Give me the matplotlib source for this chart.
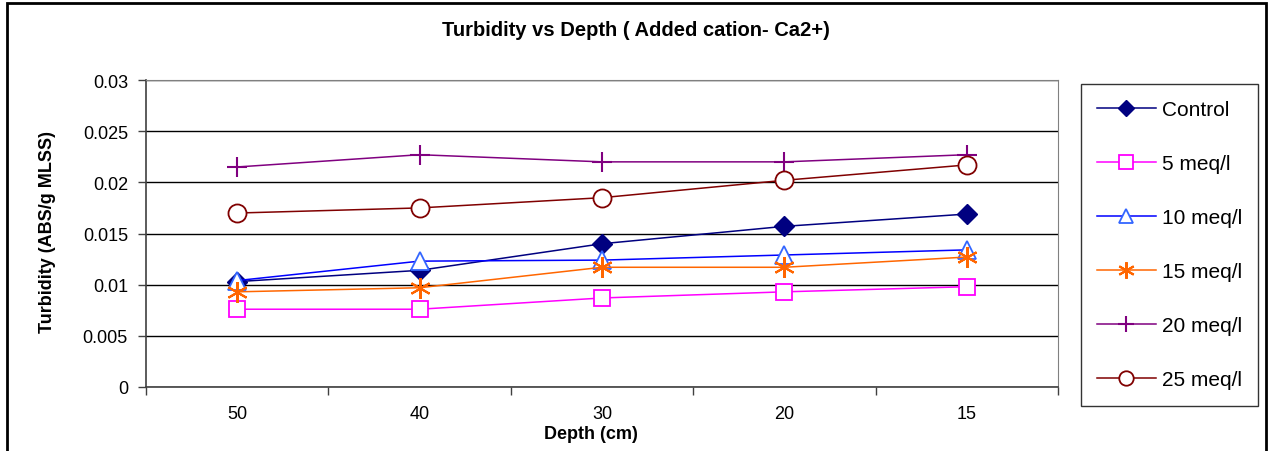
import matplotlib.pyplot as plt
from matplotlib.patches import Rectangle

plt.rcParams['font.family'] = ['Liberation Sans', 'DejaVu Sans']

# depth categories (cm), plotted in this order left to right
depth = ['50', '40', '30', '20', '15']

control = [0.0103, 0.0114, 0.0140, 0.0157, 0.0169]
meq5 = [0.0076, 0.0076, 0.0087, 0.0093, 0.0098]
meq10 = [0.0104, 0.0123, 0.0124, 0.0129, 0.0134]
meq15 = [0.0093, 0.0097, 0.0117, 0.0117, 0.0127]
meq20 = [0.0215, 0.0227, 0.0220, 0.0220, 0.0227]
meq25 = [0.0170, 0.0175, 0.0185, 0.0202, 0.0217]

labels = ['Control', '5 meq/l', '10 meq/l', '15 meq/l', '20 meq/l', '25 meq/l']

W, H = 1271, 452
fig = plt.figure(figsize=(W / 100, H / 100), dpi=100)
ax = fig.add_axes([146 / W, 64 / H, 912 / W, 307 / H])

x = range(len(depth))
lw = 1.1
ax.plot(x, control, color='#000080', lw=lw, marker='D', ms=10,
        mfc='#000080', mec='#000080', label=labels[0], zorder=3)
ax.plot(x, meq5, color='#FF00FF', lw=lw, marker='s', ms=12,
        mfc='white', mec='#FF00FF', mew=1.3, label=labels[1], zorder=3)
ax.plot(x, meq10, color='#0000FF', lw=lw, marker='^', ms=13,
        mfc='white', mec='#3366FF', mew=1.3, label=labels[2], zorder=3)
ax.plot(x, meq15, color='#FF6600', lw=lw, marker=(6, 2, 0), ms=15,
        mec='#FF6600', mew=1.5, label=labels[3], zorder=3)
ax.plot(x, meq20, color='#800080', lw=lw, marker='+', ms=14,
        mec='#800080', mew=1.5, label=labels[4], zorder=3)
ax.plot(x, meq25, color='#800000', lw=lw, marker='o', ms=13,
        mfc='white', mec='#800000', mew=1.3, label=labels[5], zorder=3)

ax.set_xlim(-0.5, len(depth) - 0.5)
ax.set_ylim(0, 0.03)
ax.set_yticks([0, 0.005, 0.01, 0.015, 0.02, 0.025, 0.03])
ax.set_yticklabels(['0', '0.005', '0.01', '0.015', '0.02', '0.025', '0.03'])
ax.set_xticks(list(x))
ax.set_xticklabels(depth)
ax.set_xticks([i - 0.5 for i in range(len(depth) + 1)], minor=True)
ax.tick_params(axis='x', which='major', length=0, labelsize=13, pad=13)
ax.tick_params(axis='x', which='minor', length=6, width=1, direction='out', color='#404040')
ax.tick_params(axis='y', length=6, width=1, direction='out', labelsize=13, pad=7, color='#404040')

ax.yaxis.grid(True, color='black', lw=1)
ax.set_axisbelow(True)
for side in ['top', 'right']:
    ax.spines[side].set_color('#808080')
for side in ['left', 'bottom']:
    ax.spines[side].set_color('#404040')
    ax.spines[side].set_linewidth(1.2)

fig.text(48 / W, 1 - 232 / H, 'Turbidity (ABS/g MLSS)', rotation=90,
         ha='center', va='center', fontsize=13, fontweight='bold')
fig.text(591 / W, 1 - 435 / H, 'Depth (cm)', ha='center', va='center',
         fontsize=13, fontweight='bold')
fig.text(636 / W, 1 - 31 / H, 'Turbidity vs Depth ( Added cation- Ca2+)',
         ha='center', va='center', fontsize=14.5, fontweight='bold')

leg = ax.legend(loc='upper left', bbox_to_anchor=(1081 / W, 1 - 85 / H),
                bbox_transform=fig.transFigure, fancybox=False,
                edgecolor='black', fontsize=15, labelspacing=1.68, handlelength=2.8,
                handletextpad=0.3, borderpad=0.78, borderaxespad=0)
leg.get_frame().set_linewidth(1)
for h in leg.legend_handles:
    h.set_markersize(h.get_markersize() * 0.8)

# outer chart border
fig.patches.append(Rectangle((7 / W, -0.02), 1259 / W, 1 - 4 / H + 0.02,
                             transform=fig.transFigure, fill=False,
                             edgecolor='black', lw=2))

fig.savefig('out.png', dpi=100)
